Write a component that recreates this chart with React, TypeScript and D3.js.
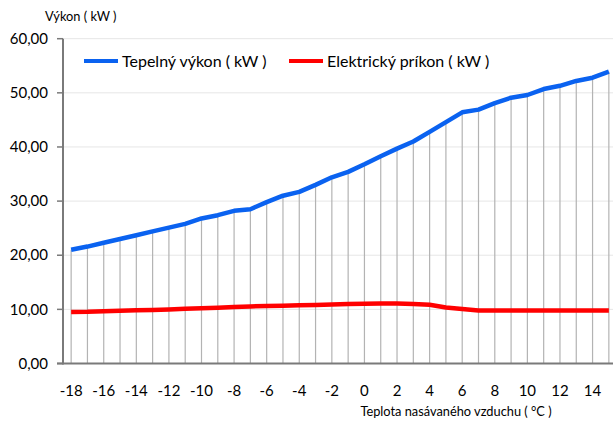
import React from "react";
import * as d3 from "d3";

const categories: number[] = d3.range(-18, 16);
const tepelnyVykon: number[] = [
  21.0, 21.6, 22.3, 23.0, 23.7, 24.4, 25.1, 25.8, 26.8, 27.4, 28.2, 28.5,
  29.8, 31.0, 31.7, 33.0, 34.4, 35.4, 36.8, 38.3, 39.7, 41.0, 42.8, 44.6,
  46.4, 46.9, 48.1, 49.1, 49.6, 50.7, 51.3, 52.2, 52.8, 53.9,
];
const elektrickyPrikon: number[] = [
  9.5, 9.55, 9.67, 9.73, 9.85, 9.9, 9.97, 10.1, 10.2, 10.3, 10.45, 10.55,
  10.62, 10.68, 10.75, 10.8, 10.9, 11.0, 11.05, 11.1, 11.1, 11.0, 10.85,
  10.35, 10.05, 9.8, 9.8, 9.8, 9.8, 9.8, 9.8, 9.8, 9.8, 9.8,
];
const yTicks: number[] = [0, 10, 20, 30, 40, 50, 60];
const xTickLabels: number[] = categories.filter((c) => c % 2 === 0);
const seriesNames: string[] = ["Tepelný výkon ( kW )", "Elektrický príkon ( kW )"];
const seriesColors: string[] = ["#0a62f0", "#ff0000"];
const yTitle = "Výkon ( kW )";
const xTitle = "Teplota nasávaného vzduchu ( °C )";

const W = 613;
const H = 421;
const plotLeft = 63;
const plotRight = 617;
const plotTop = 38.7;
const plotBottom = 363.5;
const FONT = "Lato, 'Open Sans', sans-serif";

export default function App() {
  const x = d3
    .scaleBand<number>()
    .domain(categories)
    .range([plotLeft, plotRight])
    .paddingInner(0)
    .paddingOuter(0);
  const cx = (c: number) => (x(c) as number) + x.bandwidth() / 2;
  const y = d3.scaleLinear().domain([0, 60]).range([plotBottom, plotTop]);

  const line = d3
    .line<number>()
    .x((_, i) => cx(categories[i]))
    .y((d) => y(d));

  const fmt = (v: number) => v.toFixed(2).replace(".", ",");

  return (
    <svg
      width={W}
      height={H}
      style={{ position: "absolute", left: 0, top: 0, background: "#fff" }}
      fontFamily={FONT}
    >
      {/* gridlines */}
      {yTicks.map((t) => (
        <line
          key={"g" + t}
          x1={plotLeft}
          x2={plotRight}
          y1={y(t)}
          y2={y(t)}
          stroke="#e6e6e6"
          strokeWidth={1}
        />
      ))}
      {/* drop lines */}
      {categories.map((c, i) => (
        <line
          key={"d" + c}
          x1={cx(c)}
          x2={cx(c)}
          y1={y(Math.max(tepelnyVykon[i], elektrickyPrikon[i]))}
          y2={y(0)}
          stroke="#b3b3b3"
          strokeWidth={1.2}
        />
      ))}
      {/* axes */}
      <line x1={plotLeft} x2={plotLeft} y1={plotTop} y2={plotBottom + 1} stroke="#7a7a7a" strokeWidth={2} />
      <line x1={plotLeft - 6} x2={plotRight} y1={plotBottom} y2={plotBottom} stroke="#7a7a7a" strokeWidth={2} />
      {yTicks.map((t) => (
        <line
          key={"t" + t}
          x1={plotLeft - 6}
          x2={plotLeft}
          y1={y(t)}
          y2={y(t)}
          stroke="#7a7a7a"
          strokeWidth={1.5}
        />
      ))}
      {/* y tick labels */}
      {yTicks.map((t) => (
        <text
          key={"yl" + t}
          x={48}
          y={y(t)}
          dy="0.35em"
          textAnchor="end"
          fontSize={15}
          fill="#000"
        >
          {fmt(t)}
        </text>
      ))}
      {/* x tick labels */}
      {xTickLabels.map((c) => (
        <text
          key={"xl" + c}
          x={cx(c)}
          y={391}
          dy="0.35em"
          textAnchor="middle"
          fontSize={15}
          fill="#000"
        >
          {c}
        </text>
      ))}
      {/* series */}
      <path
        d={line(elektrickyPrikon) || ""}
        fill="none"
        stroke={seriesColors[1]}
        strokeWidth={4.5}
        strokeLinejoin="round"
      />
      <path
        d={line(tepelnyVykon) || ""}
        fill="none"
        stroke={seriesColors[0]}
        strokeWidth={4.5}
        strokeLinejoin="round"
      />
      {/* legend */}
      <line x1={84} x2={118} y1={61} y2={61} stroke={seriesColors[0]} strokeWidth={4} />
      <text x={122} y={61} dy="0.35em" fontSize={16} fill="#000">
        {seriesNames[0]}
      </text>
      <line x1={289} x2={323} y1={61} y2={61} stroke={seriesColors[1]} strokeWidth={4} />
      <text x={327} y={61} dy="0.35em" fontSize={16} fill="#000">
        {seriesNames[1]}
      </text>
      {/* titles */}
      <text x={45} y={17} dy="0.35em" fontSize={12.8} fill="#000">
        {yTitle}
      </text>
      <text x={456} y={412} dy="0.35em" textAnchor="middle" fontSize={12.8} fill="#000">
        {xTitle}
      </text>
    </svg>
  );
}
